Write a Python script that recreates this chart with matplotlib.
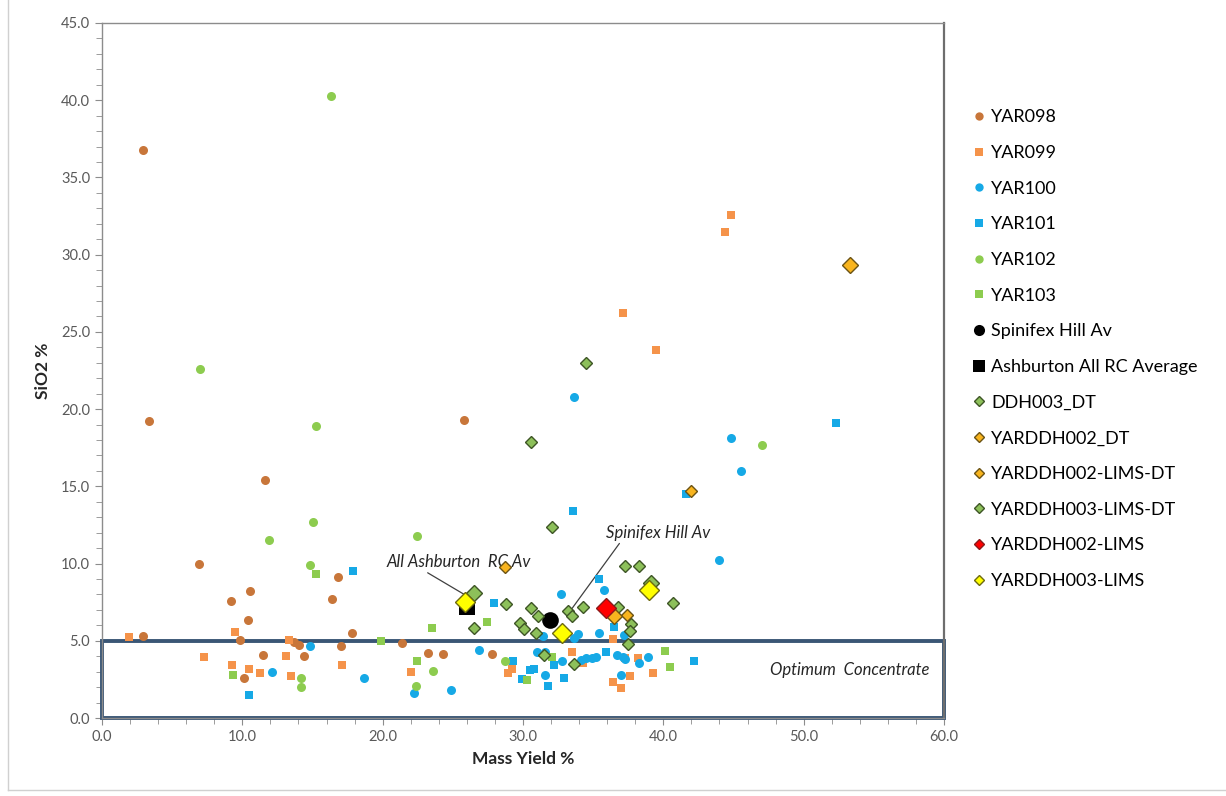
import matplotlib
matplotlib.use("Agg")
import matplotlib.pyplot as plt
from matplotlib.lines import Line2D
from matplotlib.patches import Rectangle
from matplotlib.ticker import MultipleLocator, FormatStrFormatter

plt.rcParams['font.family'] = ['Lato', 'DejaVu Sans']

# ---- data (Mass Yield %, SiO2 %) ----
yar098_x = [2.95, 3.33, 11.6, 25.77, 6.9, 16.8, 10.56, 9.2, 16.4, 10.4, 2.95, 9.8, 13.65,
            14.05, 11.5, 14.4, 10.1, 17.8, 17.0, 21.4, 23.2, 24.27, 27.8]
yar098_y = [36.8, 19.2, 15.4, 19.3, 10.0, 9.1, 8.25, 7.6, 7.7, 6.35, 5.33, 5.05, 4.95,
            4.7, 4.08, 4.02, 2.57, 5.53, 4.69, 4.86, 4.2, 4.15, 4.15]

yar099_x = [1.95, 9.5, 13.3, 13.1, 7.3, 9.25, 10.5, 11.25, 13.46, 17.1, 22.05, 28.9, 29.2,
            33.5, 34.3, 36.4, 37.3, 38.2, 39.25, 37.6, 36.4, 37.0, 37.1, 39.5, 44.4, 44.8]
yar099_y = [5.27, 5.55, 5.05, 4.04, 3.97, 3.43, 3.17, 2.9, 2.72, 3.45, 3.0, 2.92, 3.2,
            4.28, 3.54, 5.14, 3.87, 3.87, 2.94, 2.72, 2.35, 1.92, 26.2, 23.8, 31.5, 32.6]

yar100_x = [12.1, 14.84, 18.7, 22.25, 24.9, 26.9, 31.0, 31.6, 32.8, 31.6, 34.1, 34.5, 34.9,
            35.2, 36.7, 37.1, 37.3, 38.3, 38.9, 37.0, 31.4, 33.9, 33.6, 35.4, 37.2, 32.74,
            35.76, 33.6, 44.8, 45.5, 44.0]
yar100_y = [3.0, 4.69, 2.57, 1.6, 1.81, 4.4, 4.3, 4.26, 3.71, 2.79, 3.76, 3.87, 3.87,
            3.97, 4.08, 3.97, 3.8, 3.58, 3.97, 2.79, 5.33, 5.42, 5.18, 5.49, 5.38, 8.0,
            8.32, 20.8, 18.1, 16.0, 10.2]

yar101_x = [10.5, 17.9, 27.9, 29.3, 29.9, 30.5, 30.8, 32.2, 32.9, 31.8, 35.95, 36.5, 35.45,
            33.57, 41.6, 52.3, 42.2]
yar101_y = [1.49, 9.5, 7.47, 3.7, 2.55, 3.1, 3.17, 3.45, 2.61, 2.07, 4.3, 5.9, 9.03,
            13.43, 14.5, 19.1, 3.7]

yar102_x = [16.33, 6.97, 15.26, 15.05, 11.9, 22.47, 14.8, 14.2, 14.2, 23.6, 22.4, 28.7, 47.05]
yar102_y = [40.3, 22.6, 18.9, 12.66, 11.5, 11.8, 9.9, 2.57, 2.03, 3.04, 2.07, 3.71, 17.7]

yar103_x = [9.3, 15.26, 19.9, 23.5, 22.47, 27.4, 30.3, 32.1, 40.1, 40.5]
yar103_y = [2.79, 9.35, 5.01, 5.8, 3.71, 6.22, 2.48, 3.97, 4.36, 3.28]

spinifex_x = [31.9]
spinifex_y = [6.37]
ashburton_x = [26.0]
ashburton_y = [7.2]

ddh003_dt_x = [34.5, 30.6, 32.05, 37.3, 38.3, 28.8, 30.55, 31.1, 33.2, 33.5, 34.26, 36.8,
               37.7, 37.6, 37.5, 40.7, 26.5, 29.8, 30.05, 30.9, 31.5, 33.6]
ddh003_dt_y = [23.0, 17.9, 12.36, 9.87, 9.85, 7.4, 7.1, 6.6, 6.93, 6.63, 7.2, 7.2,
               6.07, 5.64, 4.8, 7.43, 5.85, 6.14, 5.79, 5.53, 4.06, 3.5]

yarddh002_dt_x = [28.7, 41.96, 37.4]
yarddh002_dt_y = [9.75, 14.7, 6.7]
yarddh002_lims_dt_x = [53.3, 36.5]
yarddh002_lims_dt_y = [29.3, 6.6]
yarddh003_lims_dt_x = [26.5, 39.1]
yarddh003_lims_dt_y = [8.08, 8.77]
yarddh002_lims_x = [35.9]
yarddh002_lims_y = [7.1]
yarddh003_lims_x = [25.9, 32.76, 39.0]
yarddh003_lims_y = [7.5, 5.53, 8.3]

x_ticks = [0, 10, 20, 30, 40, 50, 60]
y_ticks = [0, 5, 10, 15, 20, 25, 30, 35, 40, 45]

# ---- colours ----
c_brown = '#C8763A'
c_orange = '#F5934A'
c_blue = '#16A9E6'
c_green = '#8DCC4F'
c_dgreen = '#8DC05A'
c_gold = '#F8B41E'

fig = plt.figure(figsize=(12.26, 7.96), dpi=100)
ax = fig.add_axes([102 / 1226, 1 - 718 / 796, (944 - 102) / 1226, (718 - 23) / 796])

# series: (label, x, y, marker, size, face, edge, edge width)
series = [
    ('YAR098', yar098_x, yar098_y, 'o', 6.5, c_brown, c_brown, 0),
    ('YAR099', yar099_x, yar099_y, 's', 6.0, c_orange, c_orange, 0),
    ('YAR100', yar100_x, yar100_y, 'o', 6.5, c_blue, c_blue, 0),
    ('YAR101', yar101_x, yar101_y, 's', 6.0, c_blue, c_blue, 0),
    ('YAR102', yar102_x, yar102_y, 'o', 6.5, c_green, c_green, 0),
    ('YAR103', yar103_x, yar103_y, 's', 6.0, c_green, c_green, 0),
    ('Spinifex Hill Av', spinifex_x, spinifex_y, 'o', 12, 'black', 'black', 0),
    ('Ashburton All RC Average', ashburton_x, ashburton_y, 's', 11, 'black', 'black', 0),
    ('DDH003_DT', ddh003_dt_x, ddh003_dt_y, 'D', 6.2, c_dgreen, '#3E5526', 1.0),
    ('YARDDH002_DT', yarddh002_dt_x, yarddh002_dt_y, 'D', 6.2, c_gold, '#6B5314', 1.0),
    ('YARDDH002-LIMS-DT', yarddh002_lims_dt_x, yarddh002_lims_dt_y, 'D', 8.5, c_gold, '#6B5314', 1.0),
    ('YARDDH003-LIMS-DT', yarddh003_lims_dt_x, yarddh003_lims_dt_y, 'D', 8.5, c_dgreen, '#3E5526', 1.0),
    ('YARDDH002-LIMS', yarddh002_lims_x, yarddh002_lims_y, 'D', 10, '#FF0000', '#8B1A1A', 1.0),
    ('YARDDH003-LIMS', yarddh003_lims_x, yarddh003_lims_y, 'D', 10, '#FFFF00', '#6E6A10', 1.0),
]

handles = []
for i, (lab, xs, ys, mk, ms, fc, ec, ew) in enumerate(series):
    ax.plot(xs, ys, linestyle='none', marker=mk, markersize=ms, markerfacecolor=fc,
            markeredgecolor=ec, markeredgewidth=ew, zorder=3 + i)
    lms = {'o': 6, 's': 5.5, 'D': 5.5}[mk]
    if lab in ('Spinifex Hill Av', 'Ashburton All RC Average'):
        lms = 8
    handles.append(Line2D([], [], linestyle='none', marker=mk, markersize=lms,
                          markerfacecolor=fc, markeredgecolor=ec, markeredgewidth=ew,
                          label=lab))

# optimum concentrate box
ax.add_patch(Rectangle((0, 0), 60, 5, fill=False, edgecolor='#3A5675', linewidth=2.8,
                       zorder=2, clip_on=False))
ax.text(59, 3.1, 'Optimum  Concentrate', style='italic', fontsize=12, color='#262626',
        ha='right', va='center')

# annotations
ax.annotate('All Ashburton  RC Av', xy=(26.0, 7.9), xytext=(20.3, 10.1),
            fontsize=12, style='italic', color='#262626', ha='left', va='center',
            arrowprops=dict(arrowstyle='-', color='#404040', lw=0.9, shrinkA=0, shrinkB=0,
                            relpos=(0.25, 0)))
ax.annotate('Spinifex Hill Av', xy=(33.5, 7.1), xytext=(35.9, 12.0),
            fontsize=12, style='italic', color='#262626', ha='left', va='center',
            arrowprops=dict(arrowstyle='-', color='#404040', lw=0.9, shrinkA=0, shrinkB=0,
                            relpos=(0.15, 0)))

ax.set_xlim(0, 60)
ax.set_ylim(0, 45)
ax.set_xticks(x_ticks)
ax.set_yticks(y_ticks)
ax.xaxis.set_minor_locator(MultipleLocator(2))
ax.yaxis.set_minor_locator(MultipleLocator(1))
ax.xaxis.set_major_formatter(FormatStrFormatter('%.1f'))
ax.yaxis.set_major_formatter(FormatStrFormatter('%.1f'))
ax.tick_params(which='both', direction='out', colors='#8C8C8C', labelcolor='#595959',
               labelsize=10.5)
ax.tick_params(which='major', length=5)
ax.tick_params(which='minor', length=4)
for s in ax.spines.values():
    s.set_color('#8C8C8C')
    s.set_linewidth(1.0)
ax.spines['right'].set_color('#6E6E6E')
ax.spines['right'].set_linewidth(1.6)

ax.set_xlabel('Mass Yield %', fontsize=12.5, fontweight='bold', color='#262626', labelpad=5)
ax.set_ylabel('SiO2 %', fontsize=12.5, fontweight='bold', color='#262626', labelpad=7)

fig.legend(handles=handles, loc='upper left', bbox_to_anchor=(962 / 1226, 1 - 102 / 796),
           frameon=False, fontsize=13, labelspacing=1.09, handletextpad=0.1,
           handlelength=1.1, borderaxespad=0)

# chart area border (left and bottom visible)
fig.add_artist(Line2D([8 / 1226, 8 / 1226], [6 / 796, 1], color='#D0D0D0', lw=1))
fig.add_artist(Line2D([8 / 1226, 1], [6 / 796, 6 / 796], color='#D0D0D0', lw=1))

fig.savefig('out.png', dpi=100)
